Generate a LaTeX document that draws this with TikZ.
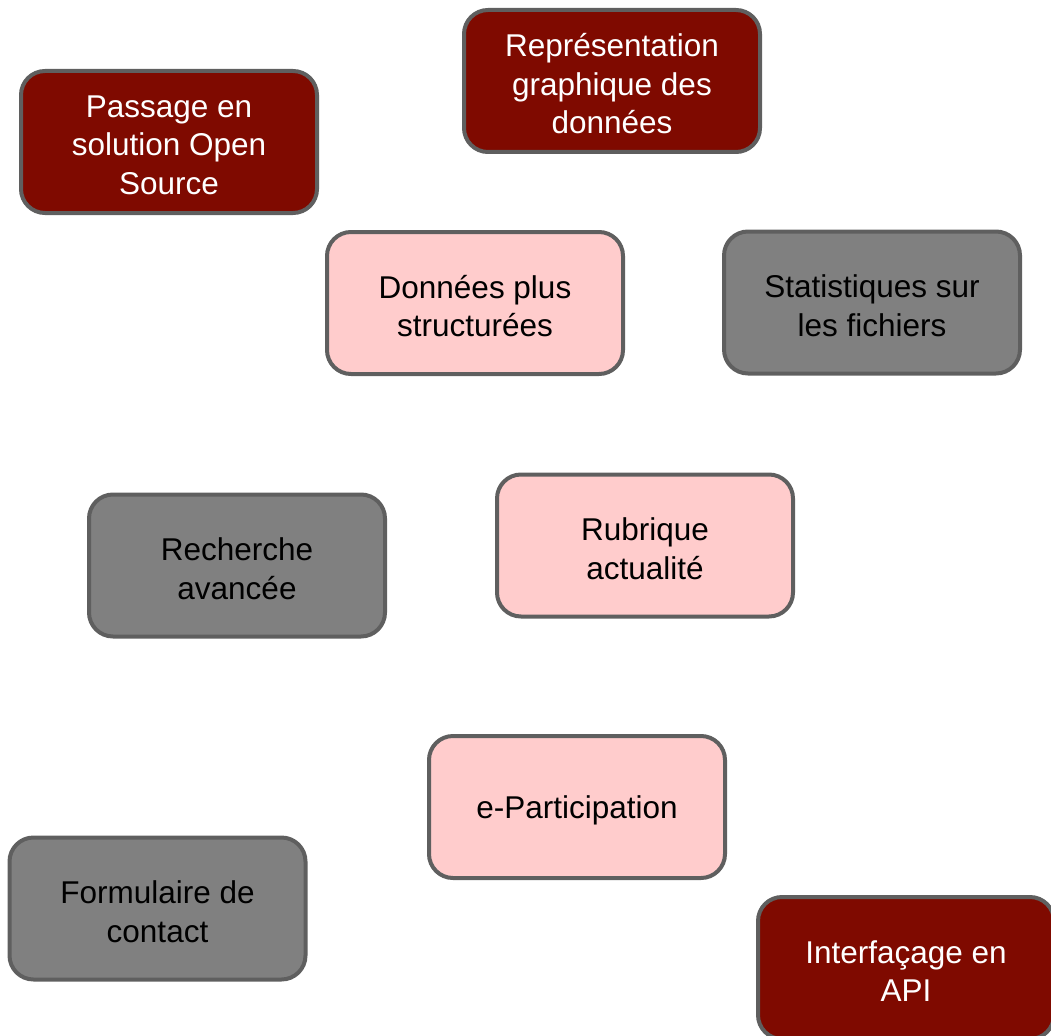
\documentclass[tikz,border=0pt]{standalone}
\usepackage{fontspec}
\setmainfont{Liberation Sans}
\definecolor{darkred}{HTML}{7F0A00}
\definecolor{pinkfill}{HTML}{FFCCCC}
\definecolor{grayfill}{HTML}{808080}
\definecolor{borderc}{HTML}{5F5F5F}
\begin{document}
\begin{tikzpicture}[x=1pt,y=-1pt,
  box/.style={draw=borderc, line width=4pt, rounded corners=24pt,
    minimum width=296pt, minimum height=142pt, inner sep=0pt},
  redbox/.style={box, fill=darkred},
  pinkbox/.style={box, fill=pinkfill},
  graybox/.style={box, fill=grayfill},
  lbl/.style={align=center, font=\fontsize{31.5}{38.5}\selectfont, inner sep=0pt, yshift=-3pt},
  wlbl/.style={lbl, text=white},
  blbl/.style={lbl, text=black}]
\useasboundingbox (0,0) rectangle (1051,1035);
\node[redbox] (passage) at (169,142) {};
\node[wlbl] (passage-t) at (passage.center) {Passage en\\solution Open\\Source};
\node[redbox] (repr) at (612,81) {};
\node[wlbl] (repr-t) at (repr.center) {Représentation\\graphique des\\données};
\node[pinkbox] (donnees) at (475,303) {};
\node[blbl] (donnees-t) at (donnees.center) {Données plus\\structurées};
\node[graybox] (stats) at (872,302.5) {};
\node[blbl] (stats-t) at (stats.center) {Statistiques sur\\les fichiers};
\node[graybox] (recherche) at (237,565.5) {};
\node[blbl] (recherche-t) at (recherche.center) {Recherche\\avancée};
\node[pinkbox] (rubrique) at (645,545.5) {};
\node[blbl] (rubrique-t) at (rubrique.center) {Rubrique\\actualité};
\node[pinkbox] (epart) at (577,807) {};
\node[blbl] (epart-t) at (epart.center) {e-Participation};
\node[graybox] (formulaire) at (157.5,908.5) {};
\node[blbl] (formulaire-t) at (formulaire.center) {Formulaire de\\contact};
\node[redbox] (api) at (906,968) {};
\node[wlbl] (api-t) at (api.center) {Interfaçage en\\API};
\end{tikzpicture}
\end{document}
